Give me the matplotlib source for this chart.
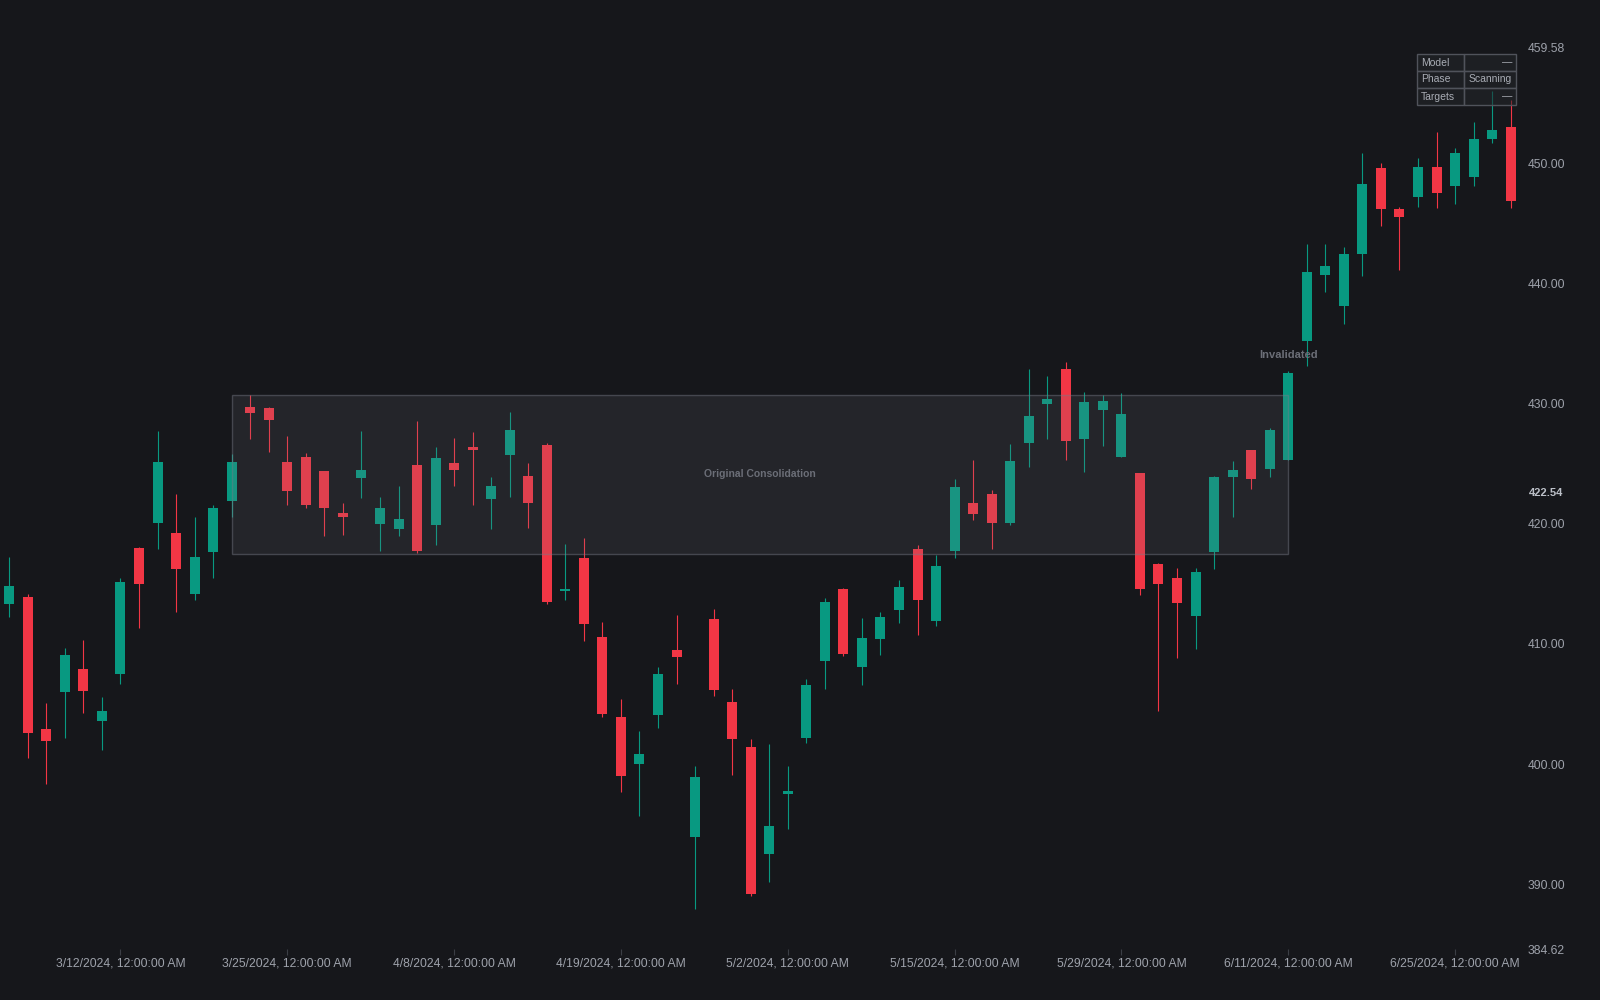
import matplotlib
matplotlib.use("Agg")
import matplotlib.pyplot as plt
from matplotlib.patches import Rectangle
import pandas as pd

# 交易日（去掉 3/29、5/27、6/19 休市）
dates = pd.bdate_range("2024-03-04", "2024-06-28", freq="C",
                       holidays=["2024-03-29", "2024-05-27", "2024-06-19"])

opens = [413.33, 413.92, 402.93, 406.01, 407.92, 403.63, 407.51, 418.02, 420.10, 419.21,
         414.14, 417.69, 421.87, 429.75, 429.61, 425.15, 425.54, 424.37, 420.88, 423.82,
         419.99, 419.60, 424.90, 419.91, 425.07, 426.37, 422.07, 425.68, 423.96, 426.51,
         414.44, 417.16, 410.59, 403.96, 399.97, 404.12, 409.50, 393.95, 412.08, 405.18,
         401.43, 392.51, 397.55, 402.16, 408.62, 414.58, 408.06, 410.43, 412.84, 417.94,
         411.90, 417.75, 421.71, 422.49, 420.08, 426.68, 429.98, 432.89, 427.07, 429.48,
         425.54, 424.21, 416.69, 415.47, 412.31, 417.69, 423.93, 426.12, 424.59, 425.34,
         435.19, 440.71, 438.13, 442.45, 449.58, 446.17, 447.22, 449.66, 448.11, 448.86,
         452.02, 452.97]
highs = [417.27, 414.16, 405.07, 409.67, 410.34, 405.60, 415.47, 418.07, 427.72, 422.48,
         420.60, 421.57, 425.81, 430.67, 429.70, 427.28, 425.87, 424.40, 421.76, 427.75,
         422.26, 423.15, 428.56, 426.40, 427.15, 427.62, 423.93, 429.28, 425.07, 426.73,
         418.30, 418.79, 411.83, 405.43, 402.77, 408.09, 412.39, 399.83, 412.89, 406.26,
         402.10, 401.66, 399.85, 407.06, 413.83, 414.63, 412.14, 412.65, 415.31, 418.25,
         417.39, 423.71, 425.32, 422.82, 426.65, 432.86, 432.31, 433.47, 430.95, 430.73,
         430.84, 424.24, 416.72, 416.33, 416.33, 423.99, 425.18, 426.15, 427.98, 432.69,
         443.29, 443.26, 443.01, 450.83, 450.00, 446.39, 450.41, 452.60, 451.25, 453.44,
         456.01, 455.27]
lows = [412.22, 400.55, 398.33, 402.16, 404.24, 401.19, 406.68, 411.36, 417.88, 412.69,
        413.66, 415.47, 420.57, 427.03, 425.98, 421.52, 421.27, 418.94, 419.05, 422.15,
        417.77, 419.02, 417.55, 418.24, 423.18, 421.54, 419.60, 422.26, 419.68, 413.33,
        413.64, 410.25, 403.88, 397.69, 395.70, 402.99, 406.70, 387.98, 405.71, 399.11,
        389.07, 390.23, 394.59, 401.80, 406.26, 409.01, 406.62, 409.04, 411.73, 410.71,
        411.48, 417.19, 420.27, 417.91, 419.91, 424.74, 427.04, 425.32, 424.29, 426.48,
        425.54, 414.09, 404.44, 408.85, 409.60, 416.22, 420.52, 422.93, 423.85, 425.32,
        433.16, 439.27, 436.60, 440.60, 444.78, 441.15, 446.39, 446.31, 446.64, 448.06,
        451.66, 446.31]
closes = [414.86, 402.55, 401.96, 409.09, 406.12, 404.46, 415.19, 414.97, 425.15, 416.27,
          417.24, 421.32, 425.15, 429.22, 428.59, 422.74, 421.52, 421.29, 420.60, 424.48,
          421.35, 420.38, 417.77, 425.43, 424.45, 426.15, 423.18, 427.84, 421.76, 413.53,
          414.55, 411.70, 404.15, 398.99, 400.88, 407.51, 408.95, 398.97, 406.20, 402.13,
          389.23, 394.89, 397.77, 406.59, 413.47, 409.20, 410.48, 412.26, 414.70, 413.62,
          416.50, 423.02, 420.85, 420.08, 425.26, 428.95, 430.39, 426.87, 430.09, 430.23,
          429.09, 414.53, 415.00, 413.39, 416.00, 423.93, 424.43, 423.74, 427.78, 432.58,
          440.96, 441.48, 442.48, 448.28, 446.20, 445.56, 449.66, 447.50, 450.86, 452.02,
          452.74, 446.81]

# 整理区间（起止K线序号 + 价格上下沿）
zone_start, zone_end = 12, 69
zone_low, zone_high = 417.49, 430.72
marker_price = 422.54
y_min, y_max = 384.62, 459.58
tick_step = 9

table_rows = [("Model", "\u2014"), ("Phase", "Scanning"), ("Targets", "\u2014")]

bg = "#16171b"
up_col = "#089981"
down_col = "#f23645"
txt_col = "#9ea2ab"

plt.rcParams["font.family"] = ["Liberation Sans", "DejaVu Sans"]

fig = plt.figure(figsize=(16, 10), dpi=100, facecolor=bg)
ax = fig.add_axes([0, 0.051, 0.951, 0.901], facecolor=bg)

n = len(opens)
xs = list(range(n))
cols = [up_col if c >= o else down_col for o, c in zip(opens, closes)]
bottoms = [min(o, c) for o, c in zip(opens, closes)]
heights = [max(abs(c - o), 0.09) for o, c in zip(opens, closes)]

# 影线 + 实体
ax.vlines(xs, lows, highs, colors=cols, linewidth=0.8, zorder=2)
ax.bar(xs, heights, bottom=bottoms, width=0.54, color=cols, linewidth=0, zorder=3)

# 原始整理区间
ax.add_patch(Rectangle((zone_start, zone_low), zone_end - zone_start, zone_high - zone_low,
                       facecolor=(0.47, 0.48, 0.525, 0.15),
                       edgecolor=(0.47, 0.48, 0.525, 0.45), linewidth=1, zorder=4))
ax.text((zone_start + zone_end) / 2, (zone_low + zone_high) / 2, "Original Consolidation",
        color="#6b6e77", fontsize=7.5, fontweight="bold", ha="center", va="center", zorder=5)
ax.text(zone_end, 434.05, "Invalidated", color="#6b6e77", fontsize=8, fontweight="bold",
        ha="center", va="center", zorder=5)

ax.set_xlim(-0.5, 81.59)
ax.set_ylim(y_min, y_max)

ticks = list(range(6, n, tick_step))
ax.set_xticks(ticks)
ax.set_xticklabels([f"{d.month}/{d.day}/{d.year}, 12:00:00 AM" for d in dates[ticks]])

yt = [y_min, 390, 400, 410, 420, 430, 440, 450, y_max]
ax.yaxis.tick_right()
ax.set_yticks(yt)
ax.set_yticklabels([f"{v:.2f}" for v in yt])
ax.tick_params(axis="y", length=0, pad=4.5, labelsize=8.75, labelcolor=txt_col)
ax.tick_params(axis="x", length=4, width=0.8, color="#3b3e45", pad=2, labelsize=8.75,
               labelcolor=txt_col)
ax.text(1.0 + 7 / 1522, marker_price, f"{marker_price:.2f}", transform=ax.get_yaxis_transform(),
        color="#bcc0c8", fontsize=8, fontweight="bold", ha="left", va="center")

for s in ax.spines.values():
    s.set_visible(False)

# 右上角状态表（半透明，能透出下面的影线）
W, H = 1600, 1000
x0, x1, x2 = 1416.7, 1463.7, 1516
row_h, top = 17, 54
for i, (k, v) in enumerate(table_rows):
    yt0 = top + i * row_h
    for a, b in ((x0, x1), (x1, x2)):
        fig.add_artist(Rectangle((a / W, 1 - (yt0 + row_h) / H), (b - a) / W, row_h / H,
                                 transform=fig.transFigure, facecolor=(0.14, 0.15, 0.17, 0.55),
                                 edgecolor="#50535b", linewidth=1, zorder=6))
    fig.text((x0 + 4) / W, 1 - (yt0 + row_h / 2) / H, k, color="#a9adb5", fontsize=7.5,
             ha="left", va="center", zorder=7)
    fig.text((x2 - 4) / W, 1 - (yt0 + row_h / 2) / H, v, color="#a9adb5", fontsize=7.5,
             ha="right", va="center", zorder=7)

plt.savefig("out.png", facecolor=bg)
